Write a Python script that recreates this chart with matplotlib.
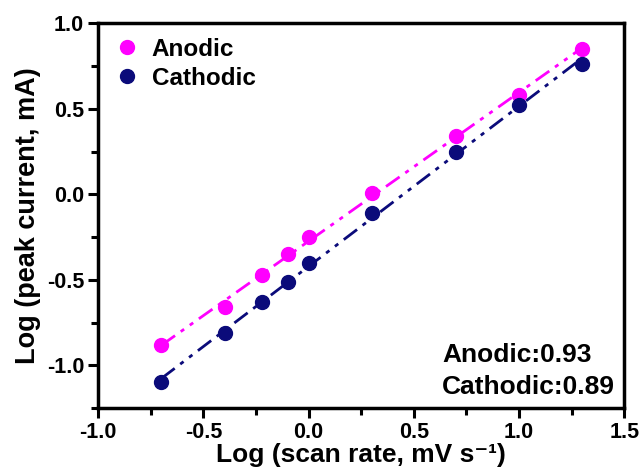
import numpy as np
import matplotlib
matplotlib.use('Agg')
import matplotlib.pyplot as plt
from matplotlib.ticker import MultipleLocator

plt.rcParams['font.family'] = ['Liberation Sans', 'DejaVu Sans']
plt.rcParams['font.weight'] = 'bold'
plt.rcParams['axes.unicode_minus'] = False

# log of scan rate (mV/s)
log_scan = [-0.699, -0.398, -0.222, -0.097, 0.0, 0.301, 0.699, 1.0, 1.301]
anodic = [-0.88, -0.66, -0.47, -0.35, -0.25, 0.01, 0.34, 0.58, 0.85]
cathodic = [-1.10, -0.81, -0.63, -0.51, -0.40, -0.11, 0.25, 0.52, 0.76]
b_labels = ['Anodic:0.93', 'Cathodic:0.89']

pink = '#ff00ff'
navy = '#0b0b7a'

fig = plt.figure(figsize=(6.41, 4.74), dpi=100)
ax = fig.add_axes([0.153, 0.139, 0.821, 0.812])

x = np.array(log_scan)
for y, c, lab in [(anodic, pink, 'Anodic'), (cathodic, navy, 'Cathodic')]:
    p = np.polyfit(x, y, 1)
    xf = np.array([x.min(), x.max()])
    ax.plot(xf, np.polyval(p, xf), color=c, lw=2, dashes=(6, 2.5, 1.5, 2.5, 1.5, 2.5))
    ax.plot(x, y, 'o', color=c, ms=10, label=lab, zorder=3)

ax.set_xlim(-1.0, 1.5)
ax.set_ylim(-1.25, 1.0)
ax.xaxis.set_major_locator(MultipleLocator(0.5))
ax.xaxis.set_minor_locator(MultipleLocator(0.25))
ax.yaxis.set_major_locator(MultipleLocator(0.5))
ax.yaxis.set_minor_locator(MultipleLocator(0.25))
ax.tick_params(which='both', direction='out', width=2.2, labelsize=15.5, top=False, right=False)
ax.tick_params(which='major', length=7, pad=3)
ax.tick_params(which='minor', length=5)
for s in ax.spines.values():
    s.set_linewidth(2.5)

ax.set_xlabel('Log (scan rate, mV s\u207b\u00b9)', fontsize=19, fontweight='bold', labelpad=0)
ax.set_ylabel('Log (peak current, mA)', fontsize=19.5, fontweight='bold', labelpad=4)

ax.legend(loc='upper left', frameon=False, fontsize=17.5, handletextpad=0.4,
          borderaxespad=0.2, labelspacing=0.25, handlelength=1.2)

ax.text(0.654, 0.138, b_labels[0], transform=ax.transAxes, ha='left', va='center', fontsize=19)
ax.text(0.654, 0.055, b_labels[1], transform=ax.transAxes, ha='left', va='center', fontsize=19)

fig.savefig('out.png', dpi=100)
